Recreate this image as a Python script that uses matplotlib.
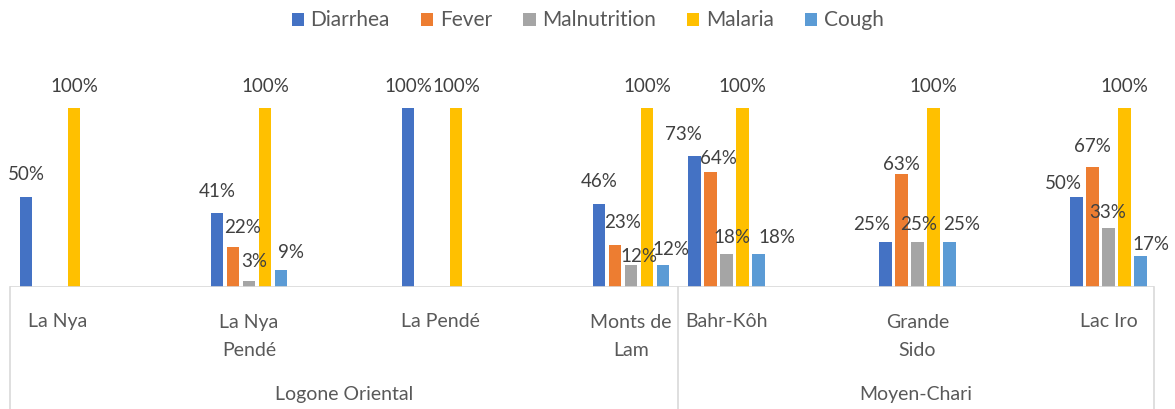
import matplotlib.pyplot as plt
import numpy as np

plt.rcParams['font.family'] = ['Lato', 'DejaVu Sans']

# data
districts = ["La Nya", "La Nya\nPendé", "La Pendé", "Monts de\nLam",
             "Bahr-Kôh", "Grande\nSido", "Lac Iro"]
regions = ["Logone Oriental", "Moyen-Chari"]
region_sizes = [4, 3]
series_names = ["Diarrhea", "Fever", "Malnutrition", "Malaria", "Cough"]
diarrhea = [50, 41, 100, 46, 73, 25, 50]
fever = [0, 22, 0, 23, 64, 63, 67]
malnutrition = [0, 3, 0, 12, 18, 25, 33]
malaria = [100, 100, 100, 100, 100, 100, 100]
cough = [0, 9, 0, 12, 18, 25, 17]

# layout (group centres on the category axis, label nudges in px)
group_x = np.array([0, 1, 2, 3, 3.5, 4.5, 5.5])
colors = ["#4472C4", "#ED7D31", "#A5A5A5", "#FFC000", "#5B9BD5"]
label_dx = [[0, 0, 0, 0, -11, -14, -13],
            [0, 10, 0, 8, 8, 0, 0],
            [0, 5, 0, 8, 5, 1, -1],
            [0, 0, 0, 0, 0, 0, 0],
            [0, 10, 0, 8, 18, 12, 10]]
label_gap = [[17, 16, 16, 17, 16, 12, 8],
             [0, 14, 0, 17, 8, 4, 15],
             [0, 14, 0, 3, 11, 12, 10],
             [16, 16, 16, 16, 16, 16, 16],
             [0, 12, 0, 10, 11, 12, 6]]

W, H = 1175, 409
fig = plt.figure(figsize=(W / 100, H / 100), dpi=100)
base_px = 286.5
ax_h = 232
ax = fig.add_axes([10 / W, (H - base_px) / H, 1144 / W, ax_h / H])

step = 0.0838
width = 0.065
xmin, xmax = -0.251, 5.738
ax.set_xlim(xmin, xmax)
ax.set_ylim(0, 130)

all_series = [diarrhea, fever, malnutrition, malaria, cough]
for i, (name, vals) in enumerate(zip(series_names, all_series)):
    xs = group_x + (i - 2) * step
    ax.bar(xs, vals, width=width, color=colors[i], label=name, zorder=2)
    for j, v in enumerate(vals):
        if v == 0:
            continue
        ax.annotate(f"{v}%", (xs[j], v),
                    xytext=(label_dx[i][j], label_gap[i][j]),
                    textcoords='offset pixels', ha='center', va='baseline',
                    fontsize=13.5, color='#404040')

for s in ax.spines.values():
    s.set_visible(False)
ax.set_xticks([])
ax.set_yticks([])

line_c = '#d9d9d9'
ax.axhline(0, color=line_c, lw=1.2, zorder=3)
tr = ax.get_xaxis_transform()
divider = (678 - 10) / 1144 * (xmax - xmin) + xmin
bounds = [xmin, divider, xmax]
for b in bounds:
    ax.plot([b, b], [0, -0.6], transform=tr, color=line_c, lw=1.2,
            clip_on=False)

# baseline-aligned: matplotlib puts the last line on the given baseline
for j, d in enumerate(districts):
    n = d.count("\n")
    ax.text(group_x[j], -(326.7 + 29 * n - base_px) / ax_h, d, transform=tr,
            ha='center', va='baseline', fontsize=14, color='#595959',
            linespacing=1.75)

for k, r in enumerate(regions):
    ax.text((bounds[k] + bounds[k + 1]) / 2, -(400 - base_px) / ax_h, r,
            transform=tr, ha='center', va='baseline', fontsize=14,
            color='#595959')

fig.legend(loc='center', bbox_to_anchor=(0.5, 1 - 20.5 / H), ncol=5,
           frameon=False, fontsize=15, handlelength=0.6, handleheight=0.6,
           handletextpad=0.3, columnspacing=1.5, labelcolor='#595959')

fig.savefig("out.png", dpi=100)
